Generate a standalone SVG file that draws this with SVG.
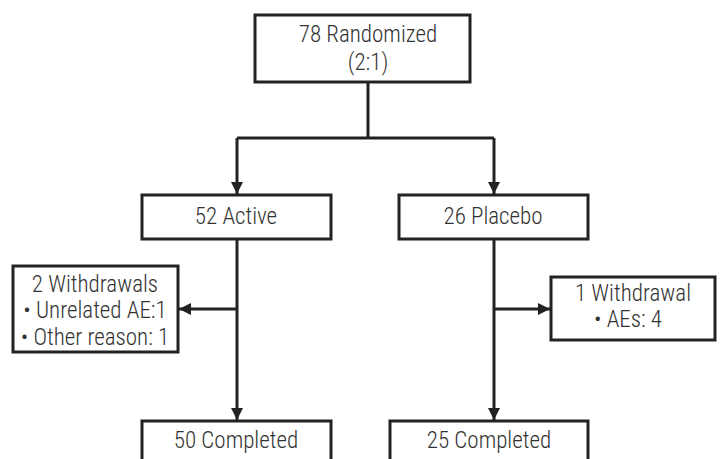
<svg xmlns="http://www.w3.org/2000/svg" width="720" height="459" viewBox="0 0 720 459">
<style>
.box{fill:#fff;stroke:#222;stroke-width:3}
.ln{fill:none;stroke:#222;stroke-width:3}
text{font-family:"Liberation Sans Narrow","Roboto Condensed","Liberation Sans",sans-serif;font-size:23px;font-weight:300;fill:#333;text-anchor:middle}
</style>
<defs>
<marker id="ah" viewBox="0 0 10 10" refX="10" refY="5" markerWidth="4" markerHeight="4" markerUnits="strokeWidth" orient="auto">
<path d="M0,0 L10,5 L0,10 z" fill="#222"/>
</marker>
</defs>
<g id="connectors">
<path class="ln" d="M368,83 V138"/>
<path class="ln" d="M237,138 H494"/>
<path class="ln" d="M237,138 V194" marker-end="url(#ah)"/>
<path class="ln" d="M494,138 V194" marker-end="url(#ah)"/>
<path class="ln" d="M237,240 V420" marker-end="url(#ah)"/>
<path class="ln" d="M494,240 V420" marker-end="url(#ah)"/>
<path class="ln" d="M237,309 H179" marker-end="url(#ah)"/>
<path class="ln" d="M494,309 H550" marker-end="url(#ah)"/>
</g>
<g id="randomized">
<rect class="box" x="255" y="15" width="215" height="67"/>
<text x="368" y="42">78 Randomized</text>
<text x="368" y="70">(2:1)</text>
</g>
<g id="active">
<rect class="box" x="142" y="195" width="189" height="44"/>
<text x="236" y="224">52 Active</text>
</g>
<g id="placebo">
<rect class="box" x="399" y="195" width="189" height="44"/>
<text x="493" y="224">26 Placebo</text>
</g>
<g id="withdrawals-active">
<rect class="box" x="13" y="266" width="165" height="86"/>
<text x="95" y="292">2 Withdrawals</text>
<text x="95" y="318">• Unrelated AE:1</text>
<text x="95" y="345">• Other reason: 1</text>
</g>
<g id="withdrawal-placebo">
<rect class="box" x="551" y="277" width="164" height="63"/>
<text x="633" y="301">1 Withdrawal</text>
<text x="628" y="327">• AEs: 4</text>
</g>
<g id="completed-active">
<rect class="box" x="142" y="421" width="189" height="50"/>
<text x="236" y="448">50 Completed</text>
</g>
<g id="completed-placebo">
<rect class="box" x="390" y="421" width="198" height="50"/>
<text x="489" y="448">25 Completed</text>
</g>
</svg>
